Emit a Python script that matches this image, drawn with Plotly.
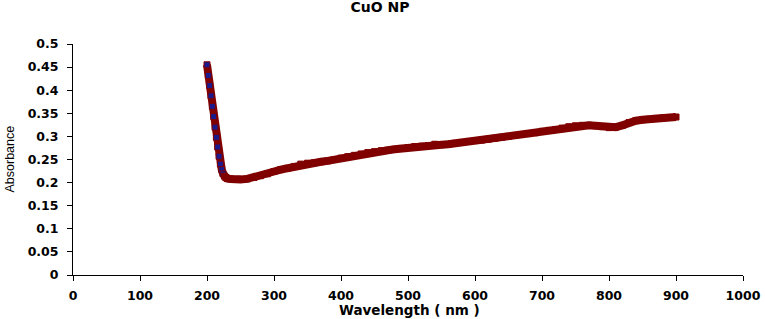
import plotly.graph_objects as go

wavelength = [200, 202, 204, 206, 208, 210, 212, 214, 216, 218, 220, 222, 224, 226, 228, 230,
              235, 240, 250, 260, 270, 280, 290, 300, 310, 320, 330, 340, 350, 360, 370, 380,
              390, 400, 410, 420, 430, 440, 450, 460, 470, 480, 490, 500, 510, 520, 530, 540,
              550, 560, 570, 580, 590, 600, 610, 620, 630, 640, 650, 660, 670, 680, 690, 700,
              710, 720, 730, 740, 750, 760, 770, 780, 790, 800, 810, 820, 830, 840, 850, 860,
              870, 880, 890, 900]
absorbance = [0.455, 0.432, 0.410, 0.388, 0.365, 0.343, 0.320, 0.298, 0.277, 0.257, 0.240, 0.228,
              0.219, 0.214, 0.211, 0.209, 0.208, 0.207, 0.207, 0.208, 0.211, 0.215, 0.219, 0.224,
              0.228, 0.231, 0.235, 0.240, 0.242, 0.243, 0.245, 0.247, 0.250, 0.253, 0.256, 0.259,
              0.262, 0.265, 0.267, 0.269, 0.270, 0.272, 0.274, 0.276, 0.278, 0.279, 0.280, 0.283,
              0.282, 0.283, 0.285, 0.287, 0.289, 0.291, 0.292, 0.294, 0.296, 0.298, 0.300, 0.302,
              0.304, 0.306, 0.308, 0.311, 0.313, 0.315, 0.318, 0.321, 0.323, 0.324, 0.324, 0.323,
              0.321, 0.319, 0.320, 0.324, 0.330, 0.334, 0.336, 0.337, 0.339, 0.340, 0.341, 0.342]

DARK_RED = "#800000"
NAVY = "#1a1a8c"
fill_colors = [NAVY if w < 226 else DARK_RED for w in wavelength]

fig = go.Figure()
fig.add_trace(go.Scatter(
    x=wavelength, y=absorbance, mode="lines+markers",
    line=dict(color=DARK_RED, width=8),
    marker=dict(symbol="square", size=6, color=fill_colors,
                line=dict(color=DARK_RED, width=1)),
    showlegend=False,
))

BOLD = "DejaVu Sans, Verdana, sans-serif"
tickfont = dict(family=BOLD, size=12.5, color="black", weight="bold")

W, H = 765, 319
L, R, T, B = 73, 22, 44, 44
PW, PH = W - L - R, H - T - B

fig.update_layout(
    width=W, height=H,
    margin=dict(l=L, r=R, t=T, b=B, autoexpand=False),
    paper_bgcolor="white", plot_bgcolor="white",
    title=dict(text="CuO NP", x=(380 / W), xref="container", xanchor="center",
               y=1 - 7 / H, yref="container", yanchor="middle",
               font=dict(family=BOLD, size=14, color="black", weight="bold")),
    xaxis=dict(range=[0, 1000], dtick=100, tick0=0, showgrid=False, zeroline=False,
               showline=True, linecolor="black", linewidth=1, automargin=False,
               ticks="outside", ticklen=5, tickcolor="black", tickfont=tickfont,
               ticklabelstandoff=4),
    yaxis=dict(range=[0, 0.5], dtick=0.05, tick0=0, showgrid=False, zeroline=False,
               showline=True, linecolor="black", linewidth=1, automargin=False,
               ticks="outside", ticklen=5, tickcolor="black", tickfont=tickfont,
               ticklabelstandoff=6),
    annotations=[
        dict(text="Absorbance", x=(9 - L) / PW, xref="paper", y=0.5, yref="paper",
             textangle=-90, showarrow=False, xanchor="center", yanchor="middle",
             font=dict(family="Liberation Sans, Arial, sans-serif", size=12.5, color="black")),
        dict(text="Wavelength ( nm )", x=(409 - L) / PW, xref="paper", y=-(310 - (H - B)) / PH,
             yref="paper", showarrow=False, xanchor="center", yanchor="middle",
             font=dict(family=BOLD, size=13.5, color="black", weight="bold")),
    ],
)

fig.write_html("out.html", config={"displayModeBar": False},
               post_script="document.body.style.margin='0';document.body.style.overflow='hidden';")
